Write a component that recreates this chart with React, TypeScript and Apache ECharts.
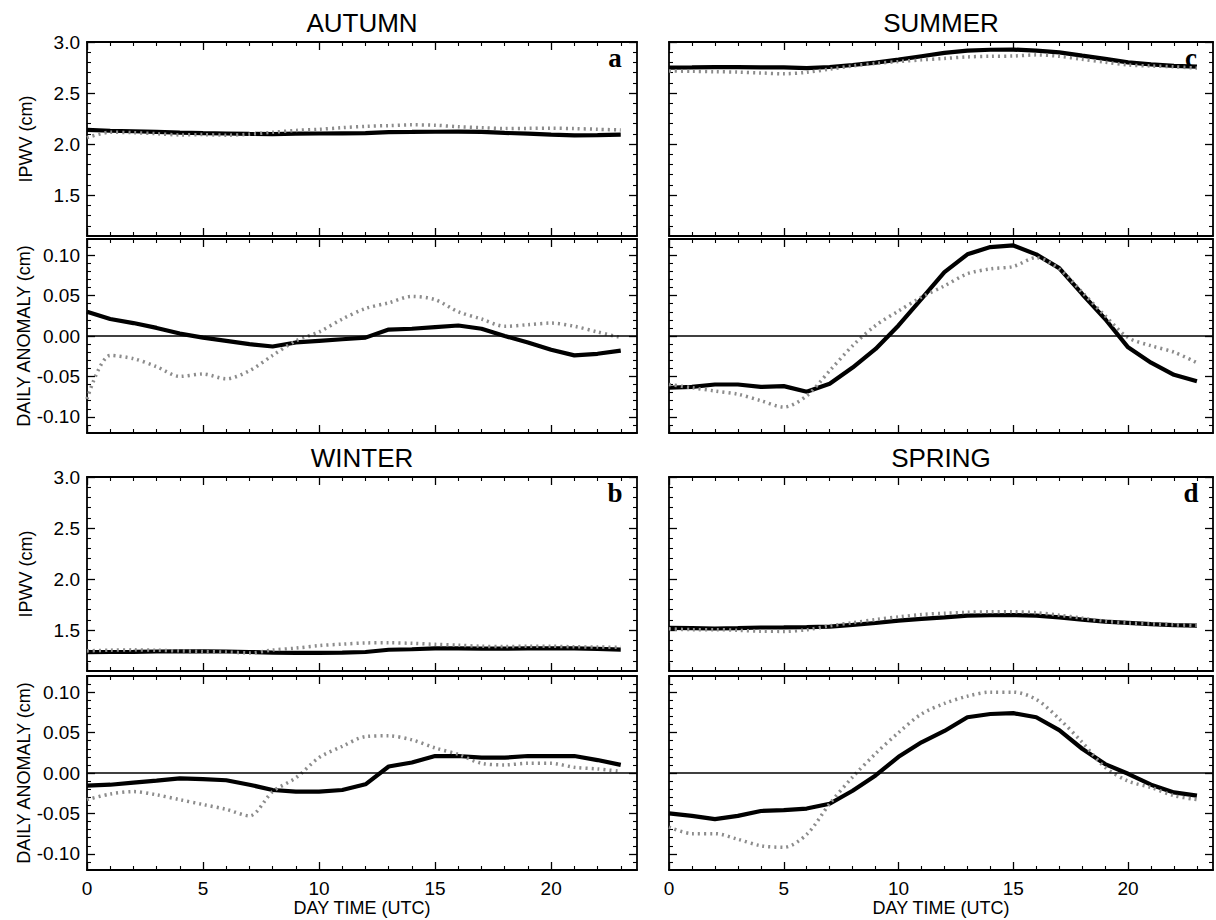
import React, { useEffect, useRef } from "react";
import * as echarts from "echarts";

// ---------------- data ----------------
const hours = [0, 1, 2, 3, 4, 5, 6, 7, 8, 9, 10, 11, 12, 13, 14, 15, 16, 17, 18, 19, 20, 21, 22, 23];

const xMajor = [0, 5, 10, 15, 20];
const xMinor = [1, 2, 3, 4, 6, 7, 8, 9, 11, 12, 13, 14, 16, 17, 18, 19, 21, 22, 23];
const ipwvMajor = [1.5, 2.0, 2.5, 3.0];
const ipwvMinor = [1.2, 1.3, 1.4, 1.6, 1.7, 1.8, 1.9, 2.1, 2.2, 2.3, 2.4, 2.6, 2.7, 2.8, 2.9];
const anomMajor = [-0.1, -0.05, 0, 0.05, 0.1];
const anomMinor = [-0.11, -0.09, -0.08, -0.07, -0.06, -0.04, -0.03, -0.02, -0.01, 0.01, 0.02, 0.03, 0.04, 0.06, 0.07, 0.08, 0.09, 0.11];

// AUTUMN
const autumnIpwvSolid = [2.140, 2.131, 2.126, 2.120, 2.113, 2.108, 2.104, 2.100, 2.097, 2.102, 2.104, 2.106, 2.108, 2.118, 2.119, 2.121, 2.123, 2.119, 2.110, 2.102, 2.093, 2.086, 2.088, 2.092];
const autumnIpwvDotted = [2.062, 2.116, 2.112, 2.102, 2.090, 2.093, 2.087, 2.097, 2.116, 2.134, 2.145, 2.161, 2.174, 2.181, 2.189, 2.185, 2.170, 2.161, 2.152, 2.154, 2.156, 2.152, 2.145, 2.138];
const autumnAnomSolid = [0.030, 0.021, 0.016, 0.010, 0.003, -0.002, -0.006, -0.010, -0.013, -0.008, -0.006, -0.004, -0.002, 0.008, 0.009, 0.011, 0.013, 0.009, 0.000, -0.008, -0.017, -0.024, -0.022, -0.018];
const autumnAnomDotted = [-0.078, -0.024, -0.028, -0.038, -0.050, -0.047, -0.053, -0.043, -0.024, -0.006, 0.005, 0.021, 0.034, 0.041, 0.049, 0.045, 0.030, 0.021, 0.012, 0.014, 0.016, 0.012, 0.005, -0.002];

// SUMMER
const summerIpwvSolid = [2.750, 2.751, 2.754, 2.754, 2.751, 2.752, 2.745, 2.755, 2.775, 2.798, 2.827, 2.860, 2.893, 2.915, 2.924, 2.926, 2.915, 2.898, 2.866, 2.835, 2.800, 2.781, 2.766, 2.758];
const summerIpwvDotted = [2.717, 2.713, 2.709, 2.705, 2.697, 2.689, 2.703, 2.734, 2.765, 2.790, 2.808, 2.825, 2.839, 2.854, 2.860, 2.863, 2.874, 2.860, 2.831, 2.802, 2.775, 2.765, 2.757, 2.744];
const summerAnomSolid = [-0.064, -0.063, -0.060, -0.060, -0.063, -0.062, -0.069, -0.059, -0.039, -0.016, 0.013, 0.046, 0.079, 0.101, 0.110, 0.112, 0.101, 0.084, 0.052, 0.021, -0.014, -0.033, -0.048, -0.056];
const summerAnomDotted = [-0.060, -0.064, -0.068, -0.072, -0.080, -0.088, -0.074, -0.043, -0.012, 0.013, 0.031, 0.048, 0.062, 0.077, 0.083, 0.086, 0.097, 0.083, 0.054, 0.025, -0.002, -0.012, -0.020, -0.033];

// WINTER
const winterIpwvSolid = [1.285, 1.286, 1.288, 1.291, 1.293, 1.293, 1.291, 1.286, 1.279, 1.277, 1.277, 1.279, 1.286, 1.308, 1.313, 1.321, 1.321, 1.319, 1.319, 1.321, 1.321, 1.321, 1.316, 1.310];
const winterIpwvDotted = [1.297, 1.304, 1.307, 1.303, 1.297, 1.291, 1.285, 1.277, 1.305, 1.324, 1.349, 1.363, 1.375, 1.376, 1.371, 1.361, 1.353, 1.342, 1.340, 1.342, 1.342, 1.337, 1.335, 1.332];
const winterAnomSolid = [-0.0155, -0.0145, -0.012, -0.0095, -0.0066, -0.0075, -0.009, -0.0145, -0.021, -0.023, -0.023, -0.021, -0.014, 0.008, 0.013, 0.021, 0.021, 0.019, 0.019, 0.021, 0.021, 0.021, 0.016, 0.010];
const winterAnomDotted = [-0.033, -0.026, -0.023, -0.027, -0.033, -0.039, -0.045, -0.053, -0.023, -0.006, 0.019, 0.033, 0.045, 0.046, 0.041, 0.031, 0.023, 0.012, 0.010, 0.012, 0.012, 0.007, 0.005, 0.002];

// SPRING
const springIpwvSolid = [1.523, 1.520, 1.516, 1.520, 1.526, 1.527, 1.529, 1.535, 1.551, 1.570, 1.593, 1.611, 1.625, 1.642, 1.646, 1.647, 1.642, 1.626, 1.603, 1.584, 1.572, 1.559, 1.549, 1.545];
const springIpwvDotted = [1.513, 1.505, 1.505, 1.498, 1.490, 1.488, 1.504, 1.542, 1.573, 1.604, 1.630, 1.653, 1.666, 1.675, 1.680, 1.680, 1.671, 1.647, 1.618, 1.587, 1.570, 1.562, 1.552, 1.547];
const springAnomSolid = [-0.050, -0.053, -0.057, -0.053, -0.047, -0.046, -0.044, -0.038, -0.022, -0.003, 0.020, 0.038, 0.052, 0.069, 0.073, 0.074, 0.069, 0.053, 0.030, 0.011, -0.001, -0.0145, -0.024, -0.028];
const springAnomDotted = [-0.067, -0.075, -0.075, -0.082, -0.090, -0.092, -0.076, -0.038, -0.005, 0.024, 0.050, 0.073, 0.086, 0.095, 0.100, 0.100, 0.091, 0.067, 0.038, 0.007, -0.010, -0.018, -0.028, -0.033];

const seasonTitles = ["AUTUMN", "SUMMER", "WINTER", "SPRING"];
const panelLetters = ["a", "c", "b", "d"];

// ---------------- layout / style ----------------
const FONT = "'Liberation Sans', Arial, Helvetica, sans-serif";
const SERIF = "'Liberation Serif', 'Times New Roman', serif";
const COL_LEFT = [87, 669];
const COL_WIDTH = [550, 544];
const UPPER_TOP = [42, 477];
const LOWER_TOP = [239, 676];
const PANEL_H = 194;
const X_MAX = 23.7;

const panels = [
  { col: 0, row: 0, ipwv: [autumnIpwvSolid, autumnIpwvDotted], anom: [autumnAnomSolid, autumnAnomDotted] },
  { col: 1, row: 0, ipwv: [summerIpwvSolid, summerIpwvDotted], anom: [summerAnomSolid, summerAnomDotted] },
  { col: 0, row: 1, ipwv: [winterIpwvSolid, winterIpwvDotted], anom: [winterAnomSolid, winterAnomDotted] },
  { col: 1, row: 1, ipwv: [springIpwvSolid, springIpwvDotted], anom: [springAnomSolid, springAnomDotted] },
];

function makeAxes(
  dim: "x" | "y",
  gridIndex: number,
  min: number,
  max: number,
  major: number[],
  minor: number[],
  opts: { labels: boolean; fmt?: (v: number) => string; name?: string; nameGap?: number; nameSize?: number }
) {
  const positions = dim === "x" ? ["bottom", "top"] : ["left", "right"];
  const list: any[] = [];
  positions.forEach((position, pi) => {
    const main: any = {
      type: "value",
      gridIndex,
      min,
      max,
      position,
      splitLine: { show: false },
      axisLine: { show: true, onZero: false, lineStyle: { color: "#000", width: 1.8 } },
      axisTick: { show: true, inside: true, length: 8, customValues: major, lineStyle: { color: "#000", width: 1.3 } },
      axisLabel:
        pi === 0 && opts.labels
          ? {
              show: true,
              customValues: major,
              formatter: opts.fmt,
              fontSize: 19,
              color: "#000",
              fontFamily: FONT,
              margin: dim === "x" ? 9 : 7,
            }
          : { show: false },
    };
    if (pi === 0 && opts.name) {
      main.name = opts.name;
      main.nameLocation = "middle";
      main.nameGap = opts.nameGap;
      if (dim === "y") main.nameRotate = 90;
      main.nameTextStyle = { fontSize: opts.nameSize, color: "#000", fontFamily: FONT };
    }
    list.push(main);
    list.push({
      type: "value",
      gridIndex,
      min,
      max,
      position,
      splitLine: { show: false },
      axisLine: { show: false, onZero: false },
      axisTick: { show: true, inside: true, length: 4, customValues: minor, lineStyle: { color: "#000", width: 1.1 } },
      axisLabel: { show: false },
    });
  });
  return list;
}

function buildOption() {
  const grid: any[] = [];
  const xAxis: any[] = [];
  const yAxis: any[] = [];
  const series: any[] = [];
  const graphic: any[] = [];

  panels.forEach((p, pi) => {
    const left = COL_LEFT[p.col];
    const width = COL_WIDTH[p.col];
    const kinds = [
      { top: UPPER_TOP[p.row], min: 1.1, max: 3.0, major: ipwvMajor, minor: ipwvMinor, data: p.ipwv, isAnom: false },
      { top: LOWER_TOP[p.row], min: -0.12, max: 0.12, major: anomMajor, minor: anomMinor, data: p.anom, isAnom: true },
    ];
    kinds.forEach((k) => {
      const gi = grid.length;
      grid.push({ left, top: k.top, width, height: PANEL_H, containLabel: false, outerBoundsMode: "none" });
      const xb = xAxis.length;
      const yb = yAxis.length;
      const bottomRowLower = k.isAnom && p.row === 1;
      xAxis.push(
        ...makeAxes("x", gi, 0, X_MAX, xMajor, xMinor, {
          labels: bottomRowLower,
          fmt: (v: number) => String(v),
          name: bottomRowLower ? "DAY TIME (UTC)" : undefined,
          nameGap: 25,
          nameSize: 18,
        })
      );
      yAxis.push(
        ...makeAxes("y", gi, k.min, k.max, k.major, k.minor, {
          labels: p.col === 0,
          fmt: k.isAnom ? (v: number) => v.toFixed(2) : (v: number) => v.toFixed(1),
          name: p.col === 0 ? (k.isAnom ? "DAILY ANOMALY (cm)" : "IPWV (cm)") : undefined,
          nameGap: 52,
          nameSize: 18,
        })
      );
      if (k.isAnom) {
        series.push({
          type: "line",
          xAxisIndex: xb,
          yAxisIndex: yb,
          data: [],
          z: 1,
          markLine: {
            silent: true,
            symbol: ["none", "none"],
            label: { show: false },
            lineStyle: { color: "#000", width: 1.5, type: "solid" },
            data: [{ yAxis: 0 }],
          },
        });
      }
      series.push({
        type: "line",
        xAxisIndex: xb,
        yAxisIndex: yb,
        data: hours.map((h, i) => [h, k.data[0][i]]),
        showSymbol: false,
        symbol: "none",
        lineStyle: { color: "#000", width: 4.2 },
        z: 3,
      });
      series.push({
        type: "line",
        xAxisIndex: xb,
        yAxisIndex: yb,
        data: hours.map((h, i) => [h, k.data[1][i]]),
        showSymbol: false,
        symbol: "none",
        smooth: 0.3,
        lineStyle: { color: "#8c8c8c", width: 3.5, type: [2, 4], cap: "butt" },
        z: 4,
      });
    });

    graphic.push({
      type: "text",
      x: left + width / 2,
      y: UPPER_TOP[p.row] - 19,
      style: {
        text: seasonTitles[pi],
        fontSize: 26,
        fontFamily: FONT,
        fill: "#000",
        align: "center",
        verticalAlign: "middle",
        textAlign: "center",
        textVerticalAlign: "middle",
      },
    });
    graphic.push({
      type: "text",
      x: left + width - 22,
      y: UPPER_TOP[p.row] + 16,
      style: {
        text: panelLetters[pi],
        fontSize: 27,
        fontWeight: "bold",
        fontFamily: SERIF,
        fill: "#000",
        align: "center",
        verticalAlign: "middle",
        textAlign: "center",
        textVerticalAlign: "middle",
      },
    });
  });

  return {
    animation: false,
    backgroundColor: "#fff",
    grid,
    xAxis,
    yAxis,
    series,
    graphic,
  };
}

export default function App() {
  const ref = useRef<HTMLDivElement>(null);
  useEffect(() => {
    document.body.style.margin = "0";
    if (!ref.current) return;
    const chart = echarts.init(ref.current, undefined, { renderer: "svg" });
    chart.setOption(buildOption() as any);
    return () => chart.dispose();
  }, []);
  return <div ref={ref} style={{ width: 1216, height: 920 }} />;
}
